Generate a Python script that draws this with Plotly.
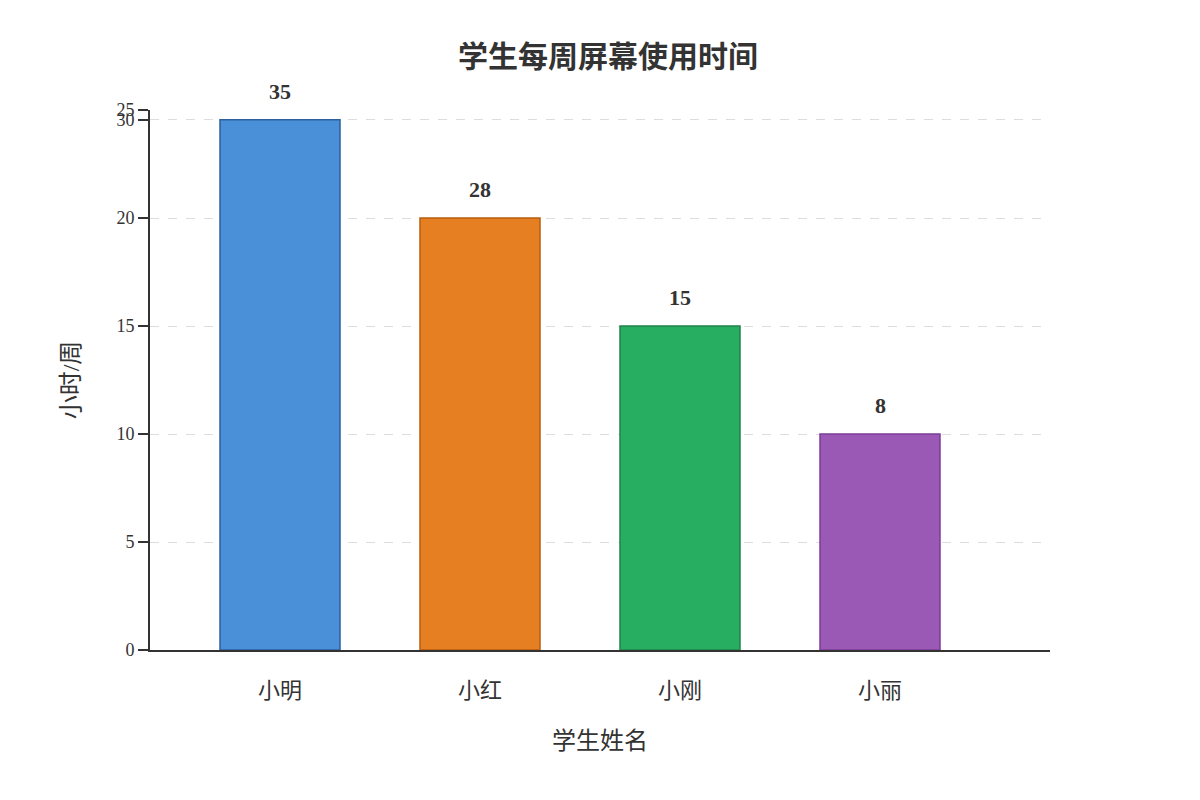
import plotly.graph_objects as go

students = ['小明', '小红', '小刚', '小丽']
hours_label = [35, 28, 15, 8]
# bar heights as drawn on the axis in the picture
bar_heights = [24.55, 20, 15, 10]
colors = ['#4a90d9', '#e67e22', '#27ae60', '#9b59b6']
edges = ['#2c5f9e', '#b85f10', '#1e8449', '#7d3c98']
tick_vals = [0, 5, 10, 15, 20, 25, 24.55]
tick_text = ['0', '5', '10', '15', '20', '25', '30']

font_fam = 'Liberation Serif, Noto Sans CJK SC, serif'
xs = list(range(len(students)))

fig = go.Figure(go.Bar(
    x=xs, y=bar_heights,
    width=0.6,
    marker=dict(color=colors, line=dict(color=edges, width=1.5)),
))

# value labels above the bars
for x, h, v in zip(xs, bar_heights, hours_label):
    fig.add_annotation(x=x, y=h, text='<b>%d</b>' % v, showarrow=False,
                       yanchor='bottom', yshift=14,
                       font=dict(size=22, color='#333', family=font_fam))

fig.update_layout(
    width=1200, height=800,
    plot_bgcolor='white', paper_bgcolor='white',
    margin=dict(l=142, r=158, t=102, b=158),
    font=dict(family=font_fam, color='#333'),
    title=dict(text='<b>学生每周屏幕使用时间</b>', x=0.5, y=0.94, xanchor='center',
               yanchor='middle', font=dict(size=30, color='#333')),
    showlegend=False,
)
fig.update_xaxes(
    tickvals=xs, ticktext=students,
    range=[-0.65, 3.85], showline=True, linecolor='#333', linewidth=2,
    ticks='', tickfont=dict(size=22), showgrid=False, ticklabelstandoff=20,
    title=dict(text='学生姓名', font=dict(size=24), standoff=30),
)
fig.update_yaxes(
    tickvals=tick_vals, ticktext=tick_text, range=[0, 25],
    showline=True, linecolor='#333', linewidth=2,
    ticks='outside', ticklen=10, tickcolor='#333', tickwidth=2,
    tickfont=dict(size=18), showgrid=True, gridcolor='#ddd', griddash='dash',
    zeroline=False,
    title=dict(text='小时/周', font=dict(size=24), standoff=30),
)

fig.write_html('out.html')
